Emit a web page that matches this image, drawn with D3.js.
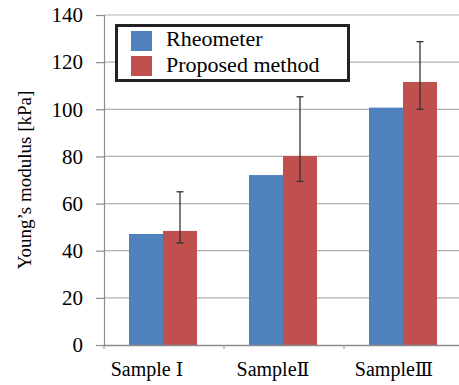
<!DOCTYPE html>
<html>
<head>
<meta charset="utf-8">
<script src="https://cdn.jsdelivr.net/npm/d3@7"></script>
<style>
  body { margin: 0; background: #fff; }
  svg { display: block; }
</style>
</head>
<body>
<script>
const samples = ["Sample I", "Sample II", "Sample III"];
const sampleBase = ["Sample\u00a0", "Sample", "Sample"];
const sampleNum = ["\u2160", "\u2161", "\u2162"];
const seriesNames = ["Rheometer", "Proposed method"];
const rheometer = [47.1, 72.1, 100.7];
const proposed = [48.4, 80.2, 111.6];
const errHigh = [65.0, 105.3, 128.7];
const errLow = [43.3, 69.4, 100.0];
const yTicks = [0, 20, 40, 60, 80, 100, 120, 140];
const colors = ["#4F81BD", "#C0504D"];

const serif = '"Liberation Serif"';
const width = 459, height = 385;
const plotL = 104, plotR = 464, plotT = 15, plotB = 345;

const svg = d3.select("body").append("svg")
  .attr("width", width)
  .attr("height", height);

const x = d3.scaleBand().domain(samples).range([plotL, plotR]);
const inner = d3.scaleBand().domain(seriesNames).range([25, 93]);
const y = d3.scaleLinear().domain([0, 140]).range([plotB, plotT]);

// gridlines
svg.append("g")
  .selectAll("line")
  .data(yTicks.filter(d => d > 0))
  .enter()
  .append("line")
  .attr("x1", plotL)
  .attr("x2", plotR)
  .attr("y1", d => y(d))
  .attr("y2", d => y(d))
  .attr("stroke", "#b3b3b3")
  .attr("stroke-width", 1.2);

// y axis
const yaxis = d3.axisLeft(y).tickValues(yTicks).tickSize(8).tickPadding(13);
const gy = svg.append("g")
  .attr("transform", `translate(${plotL},0)`)
  .call(yaxis);
gy.attr("font-family", null);
gy.select(".domain").attr("stroke", "#8c8c8c").attr("stroke-width", 1.2);
gy.selectAll(".tick line").attr("stroke", "#8c8c8c").attr("stroke-width", 1.2);
gy.selectAll(".tick text")
  .style("font-family", serif)
  .style("font-size", "21px")
  .attr("fill", "#000");

// bars
const data = samples.map((s, i) => ({
  sample: s,
  values: [rheometer[i], proposed[i]],
  hi: errHigh[i],
  lo: errLow[i]
}));

const groups = svg.selectAll("g.sample")
  .data(data)
  .enter()
  .append("g")
  .attr("class", "sample")
  .attr("transform", d => `translate(${x(d.sample)},0)`);

groups.selectAll("rect")
  .data(d => d.values.map((v, k) => ({ name: seriesNames[k], v, k })))
  .enter()
  .append("rect")
  .attr("x", d => inner(d.name))
  .attr("width", inner.bandwidth())
  .attr("y", d => y(d.v))
  .attr("height", d => y(0) - y(d.v))
  .attr("fill", d => colors[d.k]);

// error bars on proposed method
const ex = d => inner(seriesNames[1]) + inner.bandwidth() / 2;
groups.append("line")
  .attr("x1", ex).attr("x2", ex)
  .attr("y1", d => y(d.hi)).attr("y2", d => y(d.lo))
  .attr("stroke", "#333").attr("stroke-width", 1.3);
groups.append("line")
  .attr("x1", d => ex(d) - 3.5).attr("x2", d => ex(d) + 3.5)
  .attr("y1", d => y(d.hi)).attr("y2", d => y(d.hi))
  .attr("stroke", "#333").attr("stroke-width", 1.3);
groups.append("line")
  .attr("x1", d => ex(d) - 3.5).attr("x2", d => ex(d) + 3.5)
  .attr("y1", d => y(d.lo)).attr("y2", d => y(d.lo))
  .attr("stroke", "#333").attr("stroke-width", 1.3);

// x axis
const labelShift = [-17, -11, -10];
const xaxis = d3.axisBottom(x).tickSize(0).tickPadding(17);
const gx = svg.append("g")
  .attr("transform", `translate(0,${plotB})`)
  .call(xaxis);
gx.attr("font-family", null);
gx.select(".domain").attr("stroke", "#8c8c8c").attr("stroke-width", 1.5);
gx.selectAll(".tick text").each(function (d, i) {
  const t = d3.select(this).text("")
    .attr("dx", labelShift[i])
    .style("font-family", serif)
    .style("font-size", "20px")
    .attr("fill", "#000");
  t.append("tspan").text(sampleBase[i]);
  t.append("tspan").style("font-family", '"DejaVu Serif"').style("font-size", "19px").text(sampleNum[i]);
});
// category separators
svg.append("g")
  .selectAll("line")
  .data(samples)
  .enter()
  .append("line")
  .attr("x1", d => x(d)).attr("x2", d => x(d))
  .attr("y1", plotB).attr("y2", plotB + 4)
  .attr("stroke", "#8c8c8c");

// y title
svg.append("text")
  .attr("transform", "translate(31,180) rotate(-90)")
  .attr("text-anchor", "middle")
  .style("font-family", serif)
  .style("font-size", "19px")
  .text("Young\u2019s modulus [kPa]");

// legend
const lg = svg.append("g");
lg.append("rect")
  .attr("x", 116.5).attr("y", 25.5)
  .attr("width", 232).attr("height", 55)
  .attr("fill", "#fff")
  .attr("stroke", "#222")
  .attr("stroke-width", 3);
seriesNames.forEach((n, k) => {
  lg.append("rect")
    .attr("x", 131).attr("y", 31 + k * 25)
    .attr("width", 21).attr("height", 20)
    .attr("fill", colors[k]);
  lg.append("text")
    .attr("x", 166).attr("y", 46 + k * 26)
    .style("font-family", serif)
    .style("font-size", "22px")
    .text(n);
});
</script>
</body>
</html>
